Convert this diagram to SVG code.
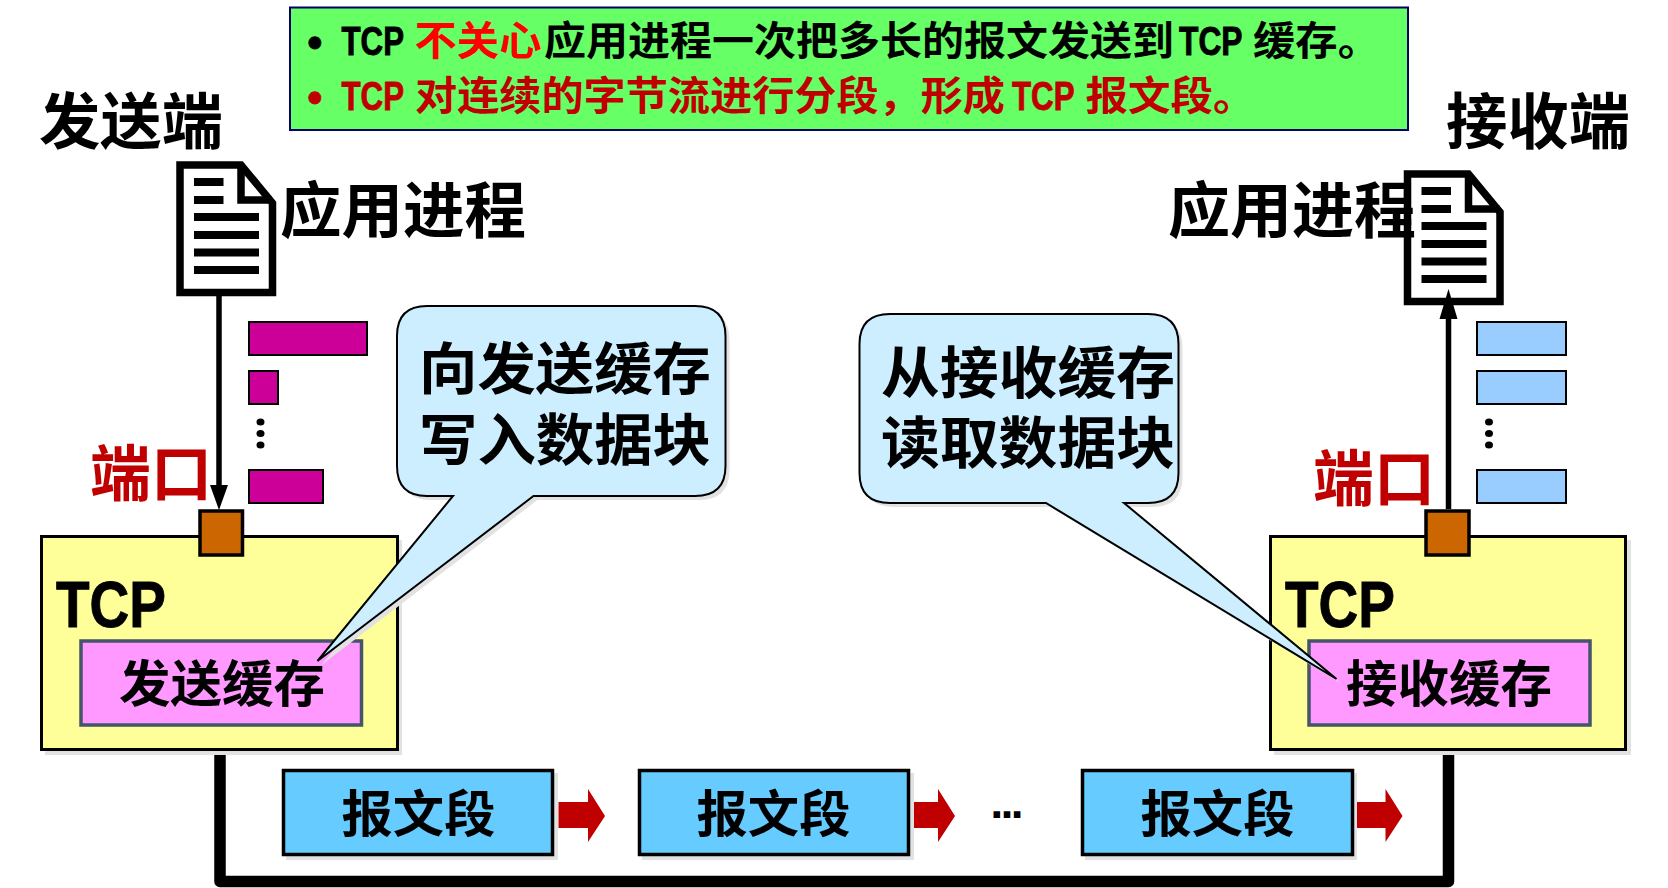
<svg xmlns="http://www.w3.org/2000/svg" width="1668" height="888" viewBox="0 0 1668 888">
<style>
text{font-family:"Noto Sans CJK SC","Liberation Sans",sans-serif;font-weight:700;fill:#000}
.lat{font-family:"Liberation Sans",sans-serif;stroke:#000;stroke-width:.9}
.sm{font-size:40px}
.xl{font-size:61px}
.lg{font-size:56px}
.md{font-size:50px}
.red{fill:#f00}
.dred{fill:#c00000}
.lat.dred{stroke:#c00000}
.sh{fill:#e2e2e2;stroke:none}
.box{stroke:#000;stroke-width:3}
.tcp{fill:#ff9}
.buf{fill:#f9f;stroke:#44546a;stroke-width:3.5}
.port{fill:#c60;stroke:#000;stroke-width:3.5}
.seg{fill:#6cf;stroke:#000;stroke-width:3.5}
.bubble{fill:#cef;stroke:#000;stroke-width:2}
.mag{fill:#c09;stroke:#000;stroke-width:2}
.blu{fill:#9cf;stroke:#000;stroke-width:2}
.flow{fill:none;stroke:#000;stroke-width:5.5}
.pipe{fill:none;stroke:#000;stroke-width:11.5;stroke-linejoin:round}
.tr{fill:#c00000}
</style>
<defs>
<marker id="headD" markerUnits="userSpaceOnUse" markerWidth="26" markerHeight="20" viewBox="0 -10 26 20" refX="0" refY="0" orient="auto"><path d="M0-9L25 0L0 9Z" fill="#000"/></marker>
<marker id="headU" markerUnits="userSpaceOnUse" markerWidth="32" markerHeight="20" viewBox="0 -10 32 20" refX="0" refY="0" orient="auto"><path d="M0-9L30 0L0 9Z" fill="#000"/></marker>
<g id="doc">
<path d="M180 165H241L272.500 203V292.500H180Z" fill="#fff" stroke="#000" stroke-width="7.500"/>
<path d="M241 165V200H272" fill="none" stroke="#000" stroke-width="7.500"/>
<path d="M194 182H223.500M194 200H223.500M194 217H259M194 235H259M194 252.500H259M194 270H259" stroke="#000" stroke-width="8" fill="none"/>
</g>
<path id="ra" d="M0 13H29.500V0L46.500 27L29.500 53V39H0Z"/>
</defs>

<g id="note">
<rect x="290" y="7.500" width="1118" height="122.500" fill="#6f6" stroke="#006" stroke-width="2"/>
<text class="lat" x="307.500" y="57" font-size="42">•</text>
<text class="lat sm" x="341.500" y="55" textLength="62.500" lengthAdjust="spacingAndGlyphs">TCP</text>
<text class="sm red" x="414.500" y="55" textLength="127" lengthAdjust="spacingAndGlyphs">不关心</text>
<text class="sm" x="544" y="55" textLength="630" lengthAdjust="spacingAndGlyphs">应用进程一次把多长的报文发送到</text>
<text class="lat sm" x="1179" y="55" textLength="63.500" lengthAdjust="spacingAndGlyphs">TCP</text>
<text class="sm" x="1253" y="55" textLength="127" lengthAdjust="spacingAndGlyphs">缓存。</text>
<text class="lat dred" x="307.500" y="112" font-size="42">•</text>
<text class="lat sm dred" x="341.500" y="110" textLength="62.500" lengthAdjust="spacingAndGlyphs">TCP</text>
<text class="sm dred" x="415" y="110" textLength="590" lengthAdjust="spacingAndGlyphs">对连续的字节流进行分段，形成</text>
<text class="lat sm dred" x="1012" y="110" textLength="62.500" lengthAdjust="spacingAndGlyphs">TCP</text>
<text class="sm dred" x="1085.500" y="110" textLength="170" lengthAdjust="spacingAndGlyphs">报文段。</text>
</g>

<g id="sender-label"><text class="xl" x="39" y="144" textLength="184" lengthAdjust="spacingAndGlyphs">发送端</text></g>
<g id="receiver-label"><text class="xl" x="1446" y="144" textLength="184" lengthAdjust="spacingAndGlyphs">接收端</text></g>

<g id="sender-app">
<use href="#doc"/>
<text class="xl" x="280" y="233" textLength="246" lengthAdjust="spacingAndGlyphs">应用进程</text>
</g>
<g id="receiver-app">
<use href="#doc" x="1227.500" y="9"/>
<text class="xl" x="1168" y="233" textLength="248" lengthAdjust="spacingAndGlyphs">应用进程</text>
</g>

<g id="send-blocks">
<rect class="mag" x="249" y="322" width="118" height="33"/>
<rect class="mag" x="249" y="371" width="29" height="33"/>
<rect class="mag" x="249" y="470" width="74" height="33"/>
<ellipse cx="260.500" cy="422" rx="4" ry="3.500"/><ellipse cx="260.500" cy="433.500" rx="4" ry="3.500"/><ellipse cx="260.500" cy="445" rx="4" ry="3.500"/>
</g>
<g id="recv-blocks">
<rect class="blu" x="1477" y="322" width="89" height="33"/>
<rect class="blu" x="1477" y="371" width="89" height="33"/>
<rect class="blu" x="1477" y="470" width="89" height="33"/>
<ellipse cx="1489" cy="422" rx="4" ry="3.500"/><ellipse cx="1489" cy="433.500" rx="4" ry="3.500"/><ellipse cx="1489" cy="445" rx="4" ry="3.500"/>
</g>

<g id="connectors">
<path class="pipe" d="M220 750V881.500H1448.500V750"/>
<path class="flow" d="M219 296V485" marker-end="url(#headD)"/>
<path class="flow" d="M1448.500 509V319" marker-end="url(#headU)"/>
<g class="tr">
<use href="#ra" x="558.500" y="789"/>
<use href="#ra" x="908.500" y="789"/>
<use href="#ra" x="1356" y="789"/>
</g>
</g>

<g id="send-tcp">
<rect class="sh" x="45" y="540" width="357" height="215"/>
<rect class="box tcp" x="41.500" y="536.500" width="356" height="213"/>
<rect class="port" x="200" y="511" width="42.500" height="44"/>
<text class="lat" x="56" y="627" font-size="64" textLength="110" lengthAdjust="spacingAndGlyphs">TCP</text>
<text x="90" y="496" font-size="61" textLength="122" lengthAdjust="spacingAndGlyphs" style="fill:#c00000">端口</text>
</g>
<g id="send-buffer">
<rect class="buf" x="81" y="641" width="280.500" height="84"/>
<text class="md" x="119" y="702" textLength="206" lengthAdjust="spacingAndGlyphs">发送缓存</text>
</g>
<g id="recv-tcp">
<rect class="sh" x="1274" y="540" width="357" height="215"/>
<rect class="box tcp" x="1270.500" y="536.500" width="355" height="213"/>
<rect class="port" x="1426" y="511" width="43" height="44"/>
<text class="lat" x="1285" y="627" font-size="64" textLength="110" lengthAdjust="spacingAndGlyphs">TCP</text>
<text x="1313" y="501" font-size="61" textLength="122" lengthAdjust="spacingAndGlyphs" style="fill:#c00000">端口</text>
</g>
<g id="recv-buffer">
<rect class="buf" x="1309" y="641" width="281" height="84"/>
<text class="md" x="1346" y="702" textLength="206" lengthAdjust="spacingAndGlyphs">接收缓存</text>
</g>

<g id="seg1">
<rect class="sh" x="286" y="773" width="272" height="87"/>
<rect class="seg" x="283.500" y="770.500" width="269" height="84"/>
<text class="md" x="341.500" y="832" textLength="154" lengthAdjust="spacingAndGlyphs">报文段</text>
</g>
<g id="seg2">
<rect class="sh" x="642" y="773" width="272" height="87"/>
<rect class="seg" x="639.500" y="770.500" width="269" height="84"/>
<text class="md" x="696.500" y="832" textLength="154" lengthAdjust="spacingAndGlyphs">报文段</text>
</g>
<g id="seg3">
<rect class="sh" x="1085" y="773" width="272" height="87"/>
<rect class="seg" x="1082.500" y="770.500" width="270" height="84"/>
<text class="md" x="1140.500" y="832" textLength="154" lengthAdjust="spacingAndGlyphs">报文段</text>
</g>
<g id="ellipsis"><text class="lat" x="991" y="817" font-size="32" style="stroke-width:2">…</text></g>

<g id="callout-send">
<path class="sh" transform="translate(4 4)" d="M427 306H695Q725.500 306 725.500 336V466Q725.500 496 695 496H533.500L317.500 661L453 496H427Q397 496 397 466V336Q397 306 427 306Z"/>
<path class="bubble" d="M427 306H695Q725.500 306 725.500 336V466Q725.500 496 695 496H533.500L317.500 661L453 496H427Q397 496 397 466V336Q397 306 427 306Z"/>
<text class="lg" x="419" y="389" textLength="292" lengthAdjust="spacingAndGlyphs">向发送缓存</text>
<text class="lg" x="419" y="460" textLength="292" lengthAdjust="spacingAndGlyphs">写入数据块</text>
</g>
<g id="callout-recv">
<path class="sh" transform="translate(4 4)" d="M890 314H1148Q1178.500 314 1178.500 344V473Q1178.500 503 1148 503H1124L1336.500 679L1046 503H890Q859.500 503 859.500 473V344Q859.500 314 890 314Z"/>
<path class="bubble" d="M890 314H1148Q1178.500 314 1178.500 344V473Q1178.500 503 1148 503H1124L1336.500 679L1046 503H890Q859.500 503 859.500 473V344Q859.500 314 890 314Z"/>
<text class="lg" x="881" y="393" textLength="294" lengthAdjust="spacingAndGlyphs">从接收缓存</text>
<text class="lg" x="881" y="463" textLength="294" lengthAdjust="spacingAndGlyphs">读取数据块</text>
</g>
</svg>
